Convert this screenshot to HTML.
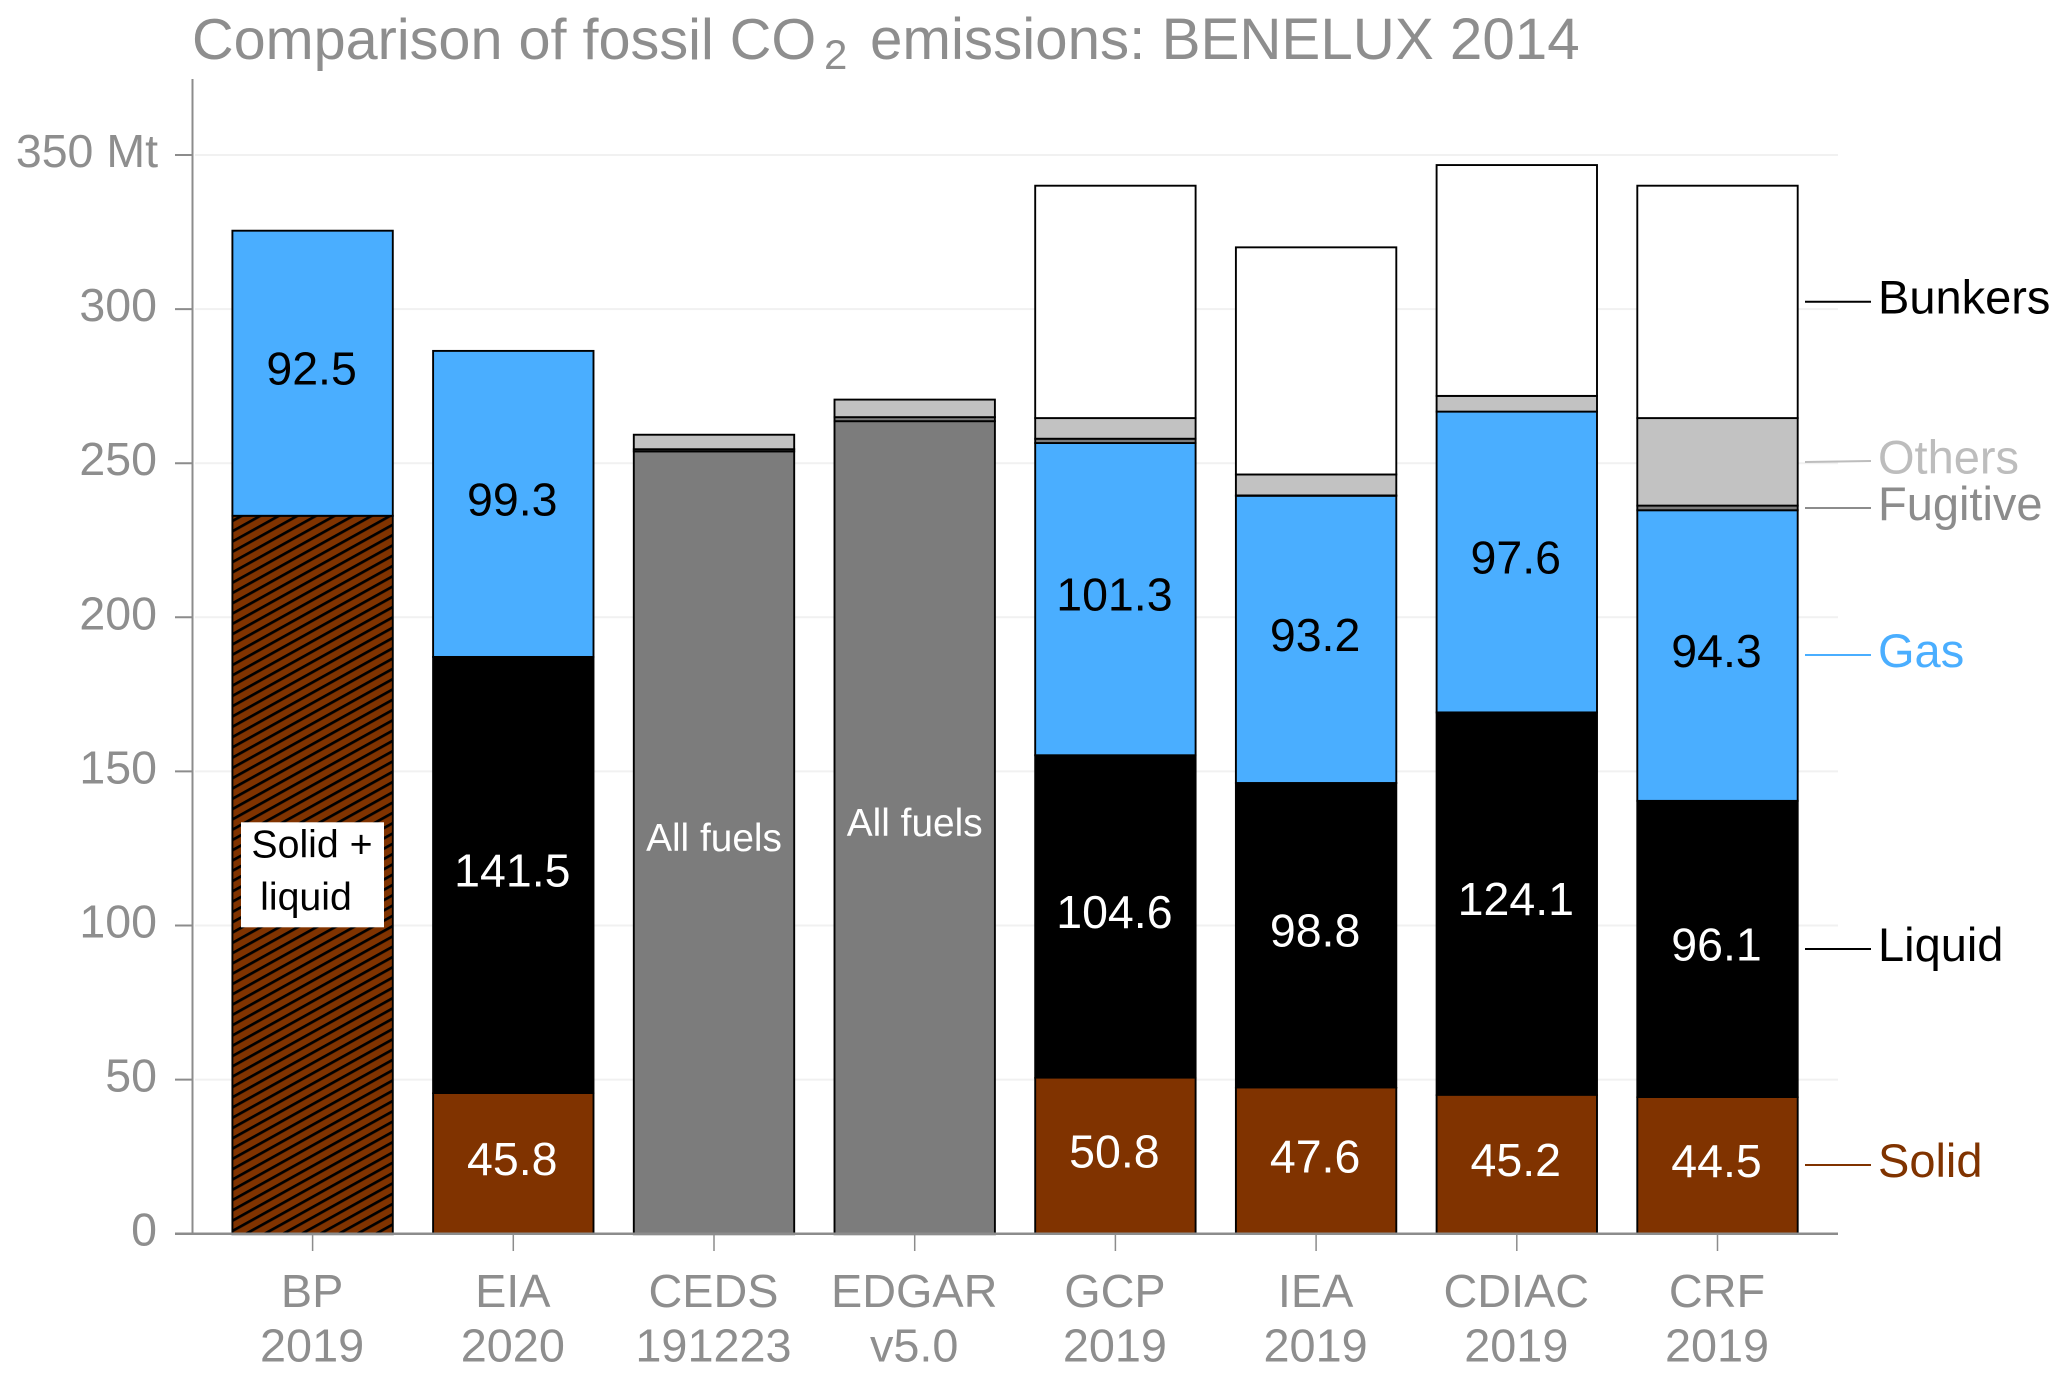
<!DOCTYPE html>
<html lang="en">
<head>
<meta charset="utf-8">
<title>Comparison of fossil CO2 emissions: BENELUX 2014</title>
<style>
html,body{margin:0;padding:0;background:#fff;width:2067px;height:1381px;overflow:hidden}
svg{display:block;font-family:"Liberation Sans",Arial,sans-serif}
</style>
</head>
<body>
<svg id="chart" xmlns="http://www.w3.org/2000/svg" width="2067" height="1381" viewBox="0 0 2067 1381">
  <defs>
    <pattern id="hatch" patternUnits="userSpaceOnUse" width="20" height="9" patternTransform="rotate(-29)">
      <rect width="20" height="9" fill="#803300"/>
      <rect y="0" width="20" height="2.7" fill="#000"/>
    </pattern>
  </defs>
  <text x="192" y="59" font-size="57.6" fill="#8e8e8e">Comparison of fossil CO<tspan x="824" y="69" font-size="42">2</tspan><tspan x="870" y="59" font-size="58.3">emissions: BENELUX 2014</tspan></text>
  <g id="grid"></g>
  <g id="bars"></g>
  <g id="axes"></g>
  <g id="labels"></g>
  <g font-size="47">
    <line x1="1805" x2="1871" y1="301.7" y2="301.7" stroke="#000" stroke-width="2"/>
    <text x="1878" y="313.5" fill="#000">Bunkers</text>
    <line x1="1805" x2="1871" y1="462" y2="461" stroke="#bdbdbd" stroke-width="2"/>
    <text x="1878" y="473.5" fill="#bdbdbd">Others</text>
    <line x1="1805" x2="1871" y1="508" y2="508" stroke="#8c8c8c" stroke-width="2"/>
    <text x="1878" y="520" fill="#8c8c8c">Fugitive</text>
    <line x1="1805" x2="1871" y1="655" y2="655" stroke="#4aaeff" stroke-width="2"/>
    <text x="1878" y="667" fill="#4aaeff">Gas</text>
    <line x1="1805" x2="1871" y1="949" y2="949" stroke="#000" stroke-width="2"/>
    <text x="1878" y="961" fill="#000">Liquid</text>
    <line x1="1805" x2="1871" y1="1165" y2="1165" stroke="#803300" stroke-width="2"/>
    <text x="1878" y="1177" fill="#803300">Solid</text>
  </g>
</svg>
<script>
const categories = ['BP', 'EIA', 'CEDS', 'EDGAR', 'GCP', 'IEA', 'CDIAC', 'CRF'];
const versions = ['2019', '2020', '191223', 'v5.0', '2019', '2019', '2019', '2019'];
const solidLiquid = [233.1, 0, 0, 0, 0, 0, 0, 0];
const allFuels = [0, 0, 254, 263.8, 0, 0, 0, 0];
const solid = [0, 45.8, 0, 0, 50.8, 47.6, 45.2, 44.5];
const liquid = [0, 141.5, 0, 0, 104.6, 98.8, 124.1, 96.1];
const gas = [92.5, 99.3, 0, 0, 101.3, 93.2, 97.6, 94.3];
const fugitive = [0, 0, 0.7, 1.3, 1.4, 0.1, 0, 1.5];
const others = [0, 0, 4.7, 5.7, 6.7, 6.8, 5.1, 28.4];
const bunkers = [0, 0, 0, 0, 75.4, 73.7, 74.9, 75.4];
const yTicks = [0, 50, 100, 150, 200, 250, 300, 350];
const yTickLabels = ['0', '50', '100', '150', '200', '250', '300', '350 Mt'];

const NS = 'http://www.w3.org/2000/svg';
const y = v => 1233.7 - v * 3.082;
const x = i => 312.6 + i * 200.7;
const BAR_W = 160.4;
const BAR_SHIFT = 0.5;
function make(tag, parent, attrs, txt) {
  const el = document.createElementNS(NS, tag);
  for (const k in attrs) el.setAttribute(k, attrs[k]);
  if (txt !== undefined) el.textContent = txt;
  parent.appendChild(el);
  return el;
}
const gridG = document.getElementById('grid');
const barsG = document.getElementById('bars');
const axesG = document.getElementById('axes');
const labelsG = document.getElementById('labels');

yTicks.forEach((t, i) => {
  if (t > 0) {
    const g = make('line', gridG, {x1: 195, x2: 1838, y1: y(t), y2: y(t), stroke: '#f1f1f1', 'stroke-width': 2});
    
    
  }
  const tick = make('line', axesG, {x1: 175, x2: 192, y1: y(t), y2: y(t), stroke: '#8c8c8c', 'stroke-width': 2});
  
  
  const lab = make('text', axesG, {x: t === 350 ? 158 : 157, y: y(t) + 12, 'text-anchor': 'end', 'font-size': 46.5, fill: '#8e8e8e'}, yTickLabels[i]);
  
  
});

const stacks = [
  {values: solid, fill: '#803300', name: 'solid', text: '#fff', label: true},
  {values: solidLiquid, fill: 'url(#hatch)', name: 'solid-liquid'},
  {values: allFuels, fill: '#7c7c7c', name: 'all-fuels'},
  {values: liquid, fill: '#000', name: 'liquid', text: '#fff', label: true},
  {values: gas, fill: '#4aaeff', name: 'gas', text: '#000', label: true},
  {values: fugitive, fill: '#7c7c7c', name: 'fugitive'},
  {values: others, fill: '#c2c2c2', name: 'others'},
  {values: bunkers, fill: '#fff', name: 'bunkers'}
];

categories.forEach((cat, i) => {
  let base = 0;
  stacks.forEach(s => {
    const v = s.values[i];
    if (v <= 0) return;
    const r = make('rect', barsG, {x: x(i) - BAR_W / 2, y: y(base + v) + BAR_SHIFT, width: BAR_W, height: y(base) - y(base + v), fill: s.fill, stroke: s.name === 'solid' ? 'none' : '#000', 'stroke-width': 1.9});
    
    
    if (s.name === 'solid') {
      const side = make('path', barsG, {d: 'M' + (x(i) - BAR_W / 2) + ' ' + y(base + v) + 'V' + y(base) + 'M' + (x(i) + BAR_W / 2) + ' ' + y(base + v) + 'V' + y(base), fill: 'none', stroke: '#000', 'stroke-width': 1.9});
      
      
    }
    if (s.label) {
      const t = make('text', labelsG, {x: x(i) - 1, y: y(base + v / 2) + 12, 'text-anchor': 'middle', 'font-size': 46.5, fill: s.text}, v.toFixed(1));
      
      
    }
    base += v;
  });
  const tick = make('line', axesG, {x1: x(i), x2: x(i), y1: y(0), y2: 1251, stroke: '#8c8c8c', 'stroke-width': 1.5});
  
  
  const l1 = make('text', axesG, {x: x(i) - 0.5, y: 1307, 'text-anchor': 'middle', 'font-size': 46.8, fill: '#8e8e8e'}, cat);
  
  
  const l2 = make('text', axesG, {x: x(i) - 0.5, y: 1361.5, 'text-anchor': 'middle', 'font-size': 46.8, fill: '#8e8e8e'}, versions[i]);
  
  
});

const yAxis = make('line', axesG, {x1: 192.5, x2: 192.5, y1: 79, y2: y(0), stroke: '#8c8c8c', 'stroke-width': 2});


const xAxis = make('line', axesG, {x1: 175, x2: 1838, y1: y(0), y2: y(0), stroke: '#8c8c8c', 'stroke-width': 2.5});



const box = make('rect', labelsG, {x: 241, y: 822.3, width: 143, height: 105, fill: '#fff'});


const sl1 = make('text', labelsG, {x: 312, y: 857.3, 'text-anchor': 'middle', 'font-size': 39.3, fill: '#000'}, 'Solid +');


const sl2 = make('text', labelsG, {x: 306, y: 910, 'text-anchor': 'middle', 'font-size': 39.3, fill: '#000'}, 'liquid');


const af1 = make('text', labelsG, {x: x(2), y: 851, 'text-anchor': 'middle', 'font-size': 38.8, fill: '#fff'}, 'All fuels');


const af2 = make('text', labelsG, {x: x(3), y: 836, 'text-anchor': 'middle', 'font-size': 38.8, fill: '#fff'}, 'All fuels');


</script>
</body>
</html>
